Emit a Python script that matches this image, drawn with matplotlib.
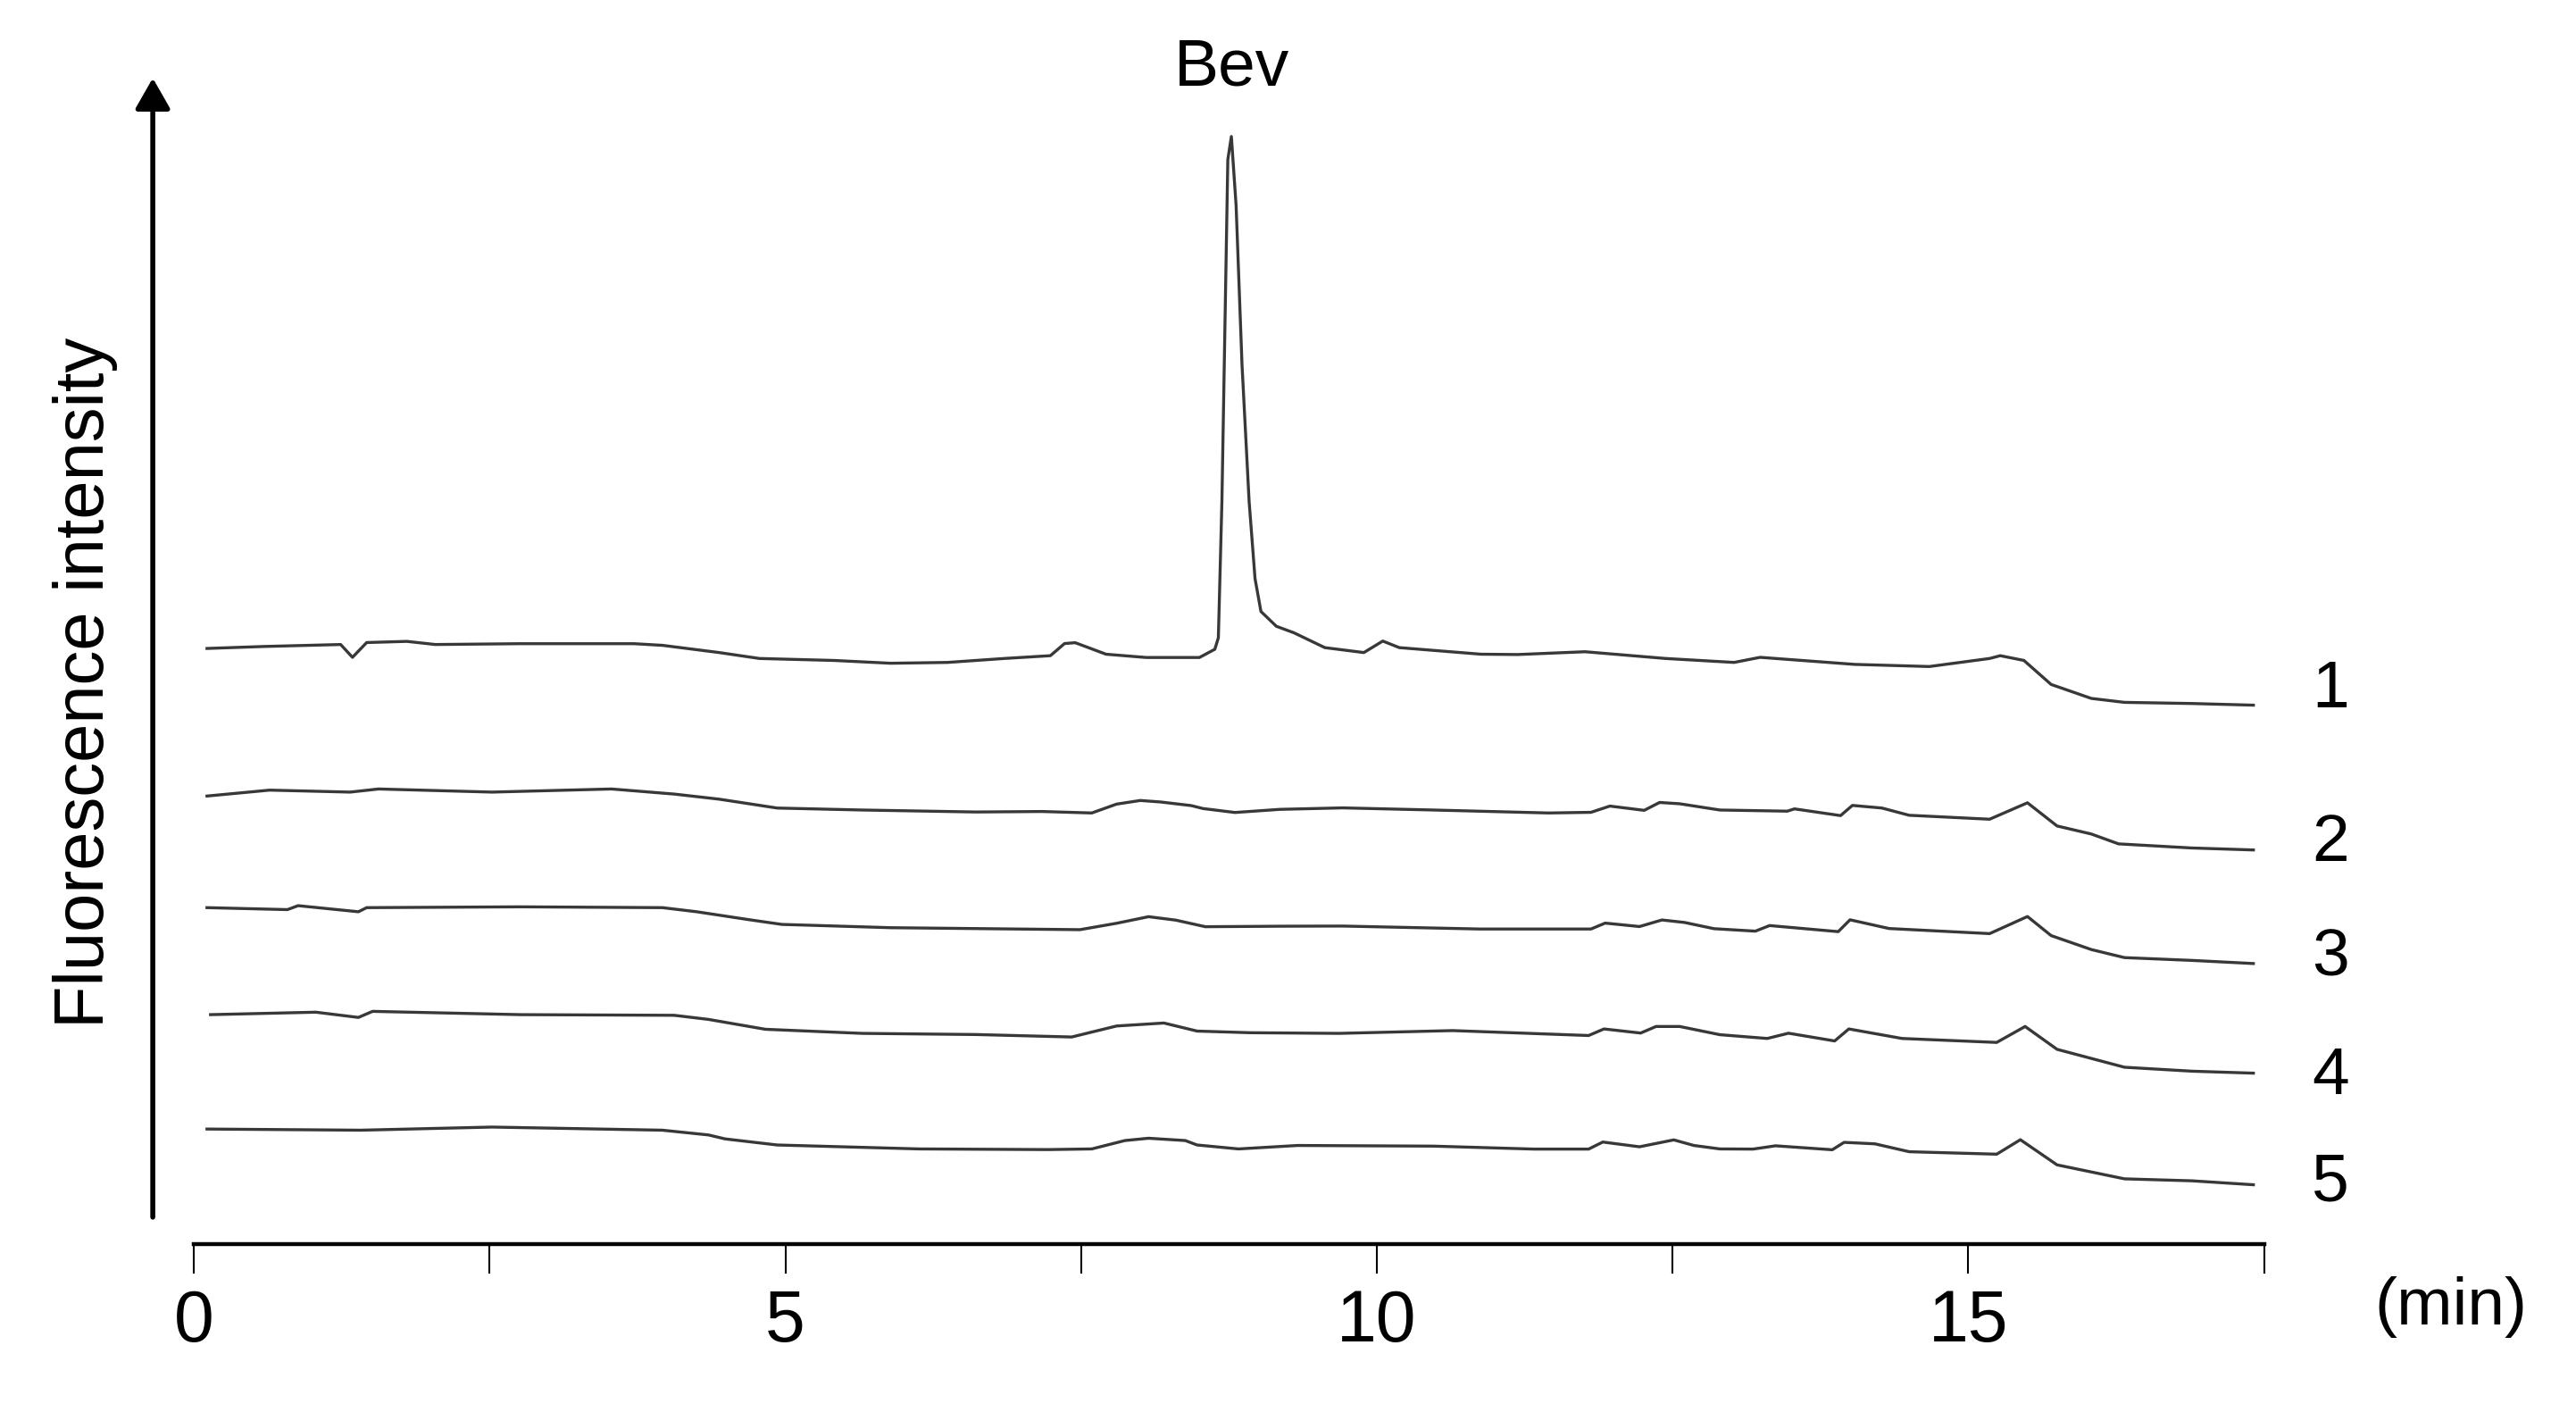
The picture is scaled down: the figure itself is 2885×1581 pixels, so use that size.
import matplotlib.pyplot as plt
from matplotlib.patches import FancyArrowPatch

plt.rcParams['font.family'] = ['Liberation Sans', 'DejaVu Sans']

# retention time (min) and signal (arbitrary units, offset per trace)
t1 = [0.11, 0.59, 1.24, 1.34, 1.46, 1.8, 2.04, 2.76, 3.72, 3.96, 4.44, 4.78, 5.41, 5.89, 6.37,
      6.85, 7.24, 7.36, 7.45, 7.71, 8.05, 8.5, 8.63, 8.66, 8.69, 8.72, 8.74, 8.77, 8.81, 8.86,
      8.92, 8.97, 9.02, 9.15, 9.30, 9.56, 9.89, 10.05, 10.19, 10.88, 11.19, 11.76, 12.44, 13.02,
      13.24, 14.04, 14.67, 15.18, 15.27, 15.47, 15.70, 16.04, 16.32, 16.89, 17.41]
s1 = [362.5, 363.7, 364.9, 357.1, 366.1, 366.8, 364.9, 365.4, 365.4, 364.4, 360, 356.4, 355.2,
      353.5, 354, 356.4, 358.1, 365.5, 366, 359, 357, 357, 362, 369, 452, 577, 660, 674, 632, 535,
      452, 405, 385, 376, 372, 363, 360, 367, 363, 359, 358.8, 360.5, 356.4, 354, 357.1, 352.8,
      351.5, 356.4, 358.1, 355.2, 340.6, 332.1, 329.7, 329, 328]

t2 = [0.11, 0.64, 1.32, 1.56, 2.52, 3.53, 4.06, 4.44, 4.93, 5.65, 6.61, 7.17, 7.59, 7.8, 8.0,
      8.17, 8.43, 8.53, 8.8, 9.18, 9.71, 10.48, 11.45, 11.81, 11.97, 12.26, 12.39, 12.56, 12.9,
      13.47, 13.53, 13.92, 14.02, 14.27, 14.5, 15.18, 15.50, 15.75, 16.04, 16.27, 16.89, 17.41]
s2 = [272.7, 276.3, 275.1, 277, 275.1, 277, 273.9, 270.8, 265.4, 264.2, 263, 263.3, 262.4, 267.8,
      270, 269.1, 266.9, 265.1, 262.7, 264.6, 265.5, 264.2, 262.4, 262.8, 266.6, 264, 268.8, 268,
      264.2, 263.5, 264.9, 260.8, 267, 265.4, 261, 258.6, 268.6, 254.5, 249.6, 243.6, 241.1, 239.9]

t3 = [0.11, 0.79, 0.88, 1.39, 1.46, 2.76, 3.96, 4.25, 4.69, 4.97, 5.89, 7.49, 7.8, 8.07, 8.3,
      8.55, 9.18, 9.71, 10.87, 11.81, 11.93, 12.22, 12.41, 12.6, 12.85, 13.2, 13.32, 13.9, 14.0,
      14.33, 15.18, 15.50, 15.7, 16.04, 16.32, 16.89, 17.41]
s3 = [204.8, 203.6, 206, 202.3, 204.8, 205.3, 204.8, 202.3, 197.5, 194.6, 192.6, 191.4, 195.3,
      199.3, 197.2, 193.2, 193.5, 193.6, 191.8, 191.8, 195.4, 193.3, 197.3, 195.8, 192, 190.5,
      193.9, 190.2, 197.4, 192.1, 189, 199.4, 187.8, 179.3, 174.4, 172.7, 170.8]

t4 = [0.14, 1.03, 1.39, 1.51, 2.76, 4.06, 4.35, 4.83, 5.65, 6.61, 7.42, 7.8, 8.2, 8.48, 8.93,
      9.68, 10.64, 11.79, 11.92, 12.23, 12.36, 12.56, 12.9, 13.3, 13.48, 13.87, 13.99, 14.44,
      15.24, 15.48, 15.75, 16.32, 16.89, 17.41]
s4 = [139.7, 141.2, 138, 141.7, 139.7, 139.3, 136.8, 130.8, 128.3, 127.6, 126.1, 132.8, 134.6,
      129.7, 128.7, 128.3, 130, 127, 131, 128.5, 132.5, 132.5, 127.5, 125.2, 128.4, 123.7, 131,
      125.2, 122.8, 132.5, 118.6, 107.7, 105.3, 104.1]

t5 = [0.11, 1.41, 2.52, 3.96, 4.35, 4.49, 4.93, 6.13, 7.22, 7.59, 7.87, 8.07, 8.38, 8.48, 8.83,
      9.33, 10.48, 11.33, 11.79, 11.91, 12.22, 12.51, 12.68, 12.9, 13.18, 13.37, 13.85, 13.95,
      14.21, 14.5, 15.24, 15.44, 15.75, 16.32, 16.89, 17.41]
s5 = [70.1, 69.4, 71.3, 69.4, 66.5, 64.1, 60.4, 58, 57.6, 58, 63.1, 64.5, 63.1, 60.4, 58, 60.1,
      59.7, 57.9, 57.9, 62.2, 59.3, 63.5, 60.1, 58, 57.9, 59.9, 57.5, 62, 61.1, 56.3, 54.8, 63.6,
      48.3, 39.8, 38.6, 36.2]

trace_labels = ['1', '2', '3', '4', '5']
label_y = [337, 244, 174, 102, 37]

fig = plt.figure(figsize=(28.85, 15.81), dpi=100)
ax = fig.add_axes([0.0753, 0.1188, 0.8036, 0.8346])

for t, s in [(t1, s1), (t2, s2), (t3, s3), (t4, s4), (t5, s5)]:
    ax.plot(t, s, color='#383838', lw=2.4)

ax.set_xlim(0, 17.5)
ax.set_ylim(0, 717)
for side in ['left', 'top', 'right']:
    ax.spines[side].set_visible(False)
ax.spines['bottom'].set_linewidth(3.2)
ax.set_yticks([])
ax.set_xticks([0, 2.5, 5, 7.5, 10, 12.5, 15, 17.5])
ax.set_xticklabels(['0', '', '5', '', '10', '', '15', ''])
ax.tick_params(axis='x', length=24, width=1.5, pad=12, labelsize=58)

for lab, y in zip(trace_labels, label_y):
    ax.text(18.06, y, lab, fontsize=54, ha='center', va='center', clip_on=False)

ax.text(8.77, 716, 'Bev', fontsize=54, ha='center', va='center', clip_on=False)
ax.text(19.08, -38, '(min)', fontsize=54, ha='center', va='center', clip_on=False)

# y arrow
fig.add_artist(FancyArrowPatch(
    (93 / 1568, 1 - 742 / 859), (93 / 1568, 1 - 46 / 859), transform=fig.transFigure,
    arrowstyle='-|>,head_length=0.7,head_width=0.4', mutation_scale=30, lw=4, color='black'))
fig.text(52 / 1568, 1 - 415 / 859, 'Fluorescence intensity', rotation=90, ha='center', va='center',
         fontsize=56)

fig.savefig('out.png', dpi=100)
